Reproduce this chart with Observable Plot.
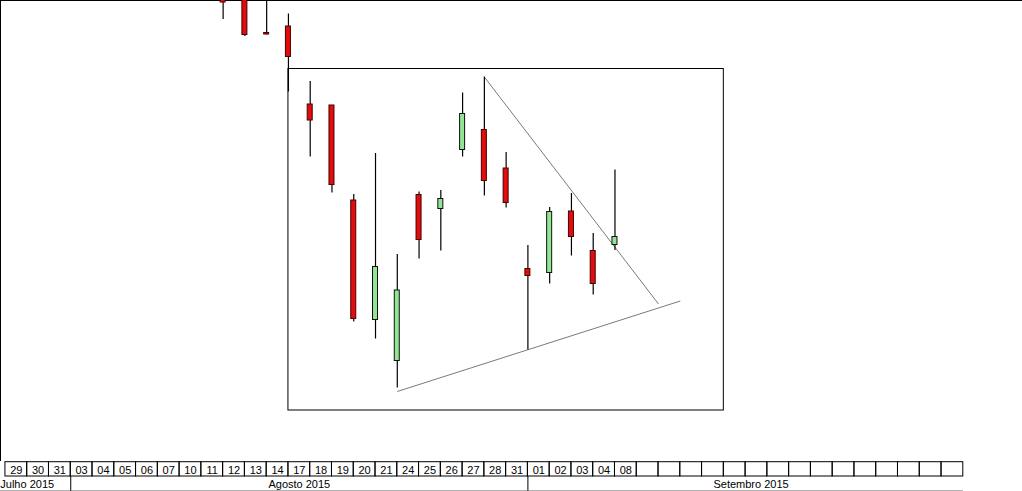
<!DOCTYPE html>
<html><head><meta charset="utf-8">
<script src="https://cdn.jsdelivr.net/npm/d3@7"></script>
<script src="https://cdn.jsdelivr.net/npm/@observablehq/plot@0.6"></script>
<style>
html,body{margin:0;padding:0;background:#fff;overflow:hidden}
svg{display:block}
</style>
</head><body><div id="chart"></div>
<script>
// Trading-day slots shown in the date row (left to right)
const tradingDays = [
  "2015-07-29","2015-07-30","2015-07-31",
  "2015-08-03","2015-08-04","2015-08-05","2015-08-06","2015-08-07",
  "2015-08-10","2015-08-11","2015-08-12","2015-08-13","2015-08-14",
  "2015-08-17","2015-08-18","2015-08-19","2015-08-20","2015-08-21",
  "2015-08-24","2015-08-25","2015-08-26","2015-08-27","2015-08-28","2015-08-31",
  "2015-09-01","2015-09-02","2015-09-03","2015-09-04","2015-09-08"
];
const totalSlots = 44; // cells drawn in the date row (empty ones after the last day)

// Month row
const monthNames = ["Julho 2015", "Agosto 2015", "Setembro 2015"];
const monthFirstSlot = [-1, 3, 24];
const monthEndSlot = [3, 24, 44.5];

// Candles (price units, no axis shown)
const candleDates = [
  "2015-08-12","2015-08-13","2015-08-14","2015-08-17","2015-08-18","2015-08-19",
  "2015-08-20","2015-08-21","2015-08-24","2015-08-25","2015-08-26","2015-08-27",
  "2015-08-28","2015-08-31","2015-09-01","2015-09-02","2015-09-03","2015-09-04","2015-09-08"
];
const openP  = [15.06,15.24,14.35,14.48,12.92,12.90,11.00, 8.61, 7.79,11.11,10.83,12.01,12.41,11.64, 9.63, 9.55,10.78, 9.99,10.11];
const highP  = [15.40,15.50,15.30,14.73,13.38,12.90,11.12,11.94, 9.92,11.17,11.20,13.15,13.47,11.96,10.10,10.86,11.14,10.34,11.61];
const lowP   = [14.62,14.28,14.31,13.17,11.87,11.15, 8.57, 8.23, 7.25, 9.83, 9.99,11.87,11.09,10.85, 8.01, 9.33, 9.89, 9.11,10.00];
const closeP = [14.96,14.31,14.32,13.87,12.60,11.31, 8.63, 9.67, 9.20,10.21,11.03,12.73,11.39,10.95, 9.49,10.77,10.27, 9.33,10.27];

// Drawn annotations (slot index, price)
const boxSlots = [13, 33];
const boxPrices = [6.80, 13.63];
const resistanceSlots = [22, 30];
const resistancePrices = [13.47, 8.93];
const supportSlots = [18, 31];
const supportPrices = [7.18, 8.99];

// ---- build tables ----
const candles = candleDates.map((d, i) => ({
  slot: tradingDays.indexOf(d),
  open: openP[i], high: highP[i], low: lowP[i], close: closeP[i]
}));
const lines = [
  {x1: resistanceSlots[0], y1: resistancePrices[0], x2: resistanceSlots[1], y2: resistancePrices[1]},
  {x1: supportSlots[0], y1: supportPrices[0], x2: supportSlots[1], y2: supportPrices[1]}
];
const box = [{x1: boxSlots[0], x2: boxSlots[1], y1: boxPrices[0], y2: boxPrices[1]}];
const dayLabels = tradingDays.map(d => d.slice(8, 10));
const slots = d3.range(totalSlots);
const months = monthNames.map((m, i) => ({name: m, start: monthFirstSlot[i], end: monthEndSlot[i]}));

const W = 1022;
const xScale = {type: "linear", domain: [-0.2265, 46.72], range: [0, W]};
const font = "'Liberation Sans', Arial, sans-serif";
const RED = "#e10c0c", GREEN = "#92e692";

const main = Plot.plot({
  width: W, height: 461,
  margin: 0,
  x: {...xScale, axis: null},
  y: {type: "linear", domain: [5.78, 15], range: [461, 0], axis: null},
  style: {fontFamily: font, background: "white"},
  marks: [
    Plot.ruleY([15], {stroke: "black"}),
    Plot.ruleX([xScale.domain[0]], {stroke: "black"}),
    Plot.rect(box, {x1: "x1", x2: "x2", y1: "y1", y2: "y2", fill: "none", stroke: "black"}),
    Plot.link(lines, {x1: "x1", y1: "y1", x2: "x2", y2: "y2", stroke: "#7a7a7a", strokeWidth: 1}),
    Plot.ruleX(candles, {x: "slot", y1: "low", y2: "high", stroke: "black", strokeWidth: 1.2, clip: true}),
    Plot.rect(candles, {
      x1: d => d.slot - 0.115, x2: d => d.slot + 0.115,
      y1: d => Math.min(d.open, d.close), y2: d => Math.max(d.open, d.close),
      fill: d => d.close >= d.open ? GREEN : RED,
      stroke: d => d.close >= d.open ? "#111" : "#4a0000",
      strokeWidth: 1, clip: true
    })
  ]
});

const axisPlot = Plot.plot({
  width: W, height: 30,
  margin: 0,
  x: {...xScale, axis: null},
  y: {type: "linear", domain: [0, 30], range: [0, 30], axis: null},
  style: {fontFamily: font, fontSize: "11px", background: "white"},
  marks: [
    Plot.rect(slots, {x1: d => d, x2: d => d + 1, y1: 0.7, y2: 15, fill: "none", stroke: "black"}),
    Plot.text(dayLabels, {x: (d, i) => i + 0.5, y: 9, text: d => d, fill: "black", fontSize: 11}),
    Plot.ruleX(months.filter(m => m.start >= 0), {x: "start", y1: 15, y2: 29.7, stroke: "black"}),
    Plot.ruleY([29.7], {x1: xScale.domain[0], x2: totalSlots, stroke: "black"}),
    Plot.text(months, {x: d => (d.start + d.end) / 2, y: 22.5, text: "name", fill: "black", fontSize: 11})
  ]
});

const root = document.getElementById("chart");
root.appendChild(main);
root.appendChild(axisPlot);
</script>
</body></html>
